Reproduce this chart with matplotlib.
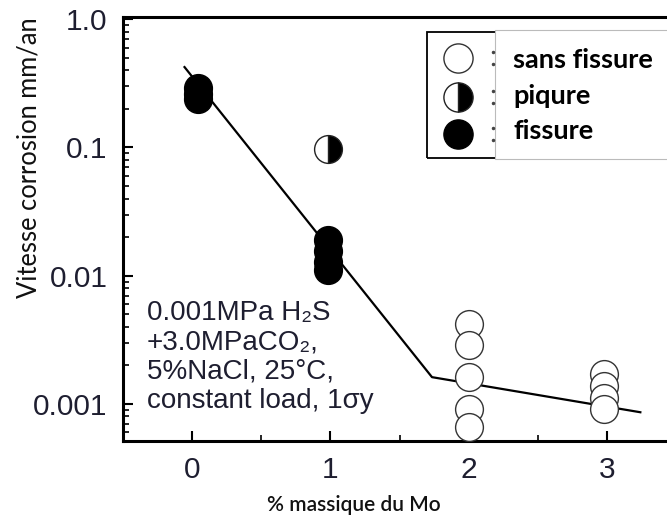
import matplotlib
matplotlib.use("Agg")
import matplotlib.pyplot as plt
from matplotlib.ticker import LogLocator, MultipleLocator, FixedLocator, NullFormatter
from matplotlib.patches import Rectangle
from matplotlib.lines import Line2D

# ---------------- data ----------------
crack_x = [0.04, 0.04, 0.04, 0.98, 0.98, 0.98, 0.98]
crack_y = [0.29, 0.26, 0.24, 0.019, 0.0155, 0.0128, 0.011]
pit_x = [0.98]
pit_y = [0.098]
nocrack_x = [2.0, 2.0, 2.0, 2.0, 2.0, 2.98, 2.98, 2.98, 2.98]
nocrack_y = [0.0042, 0.0029, 0.00162, 0.00091, 0.00066, 0.00171, 0.00137, 0.00112, 0.00092]
fit_x = [-0.06, 1.735, 3.25]
fit_y = [0.43, 0.00162, 0.00086]
xtick_vals = [0, 1, 2, 3]
xtick_labels = ['0', '1', '2', '3']
ytick_vals = [0.001, 0.01, 0.1, 1.0]
ytick_labels = ['0.001', '0.01', '0.1', '1.0']
legend_labels = ['sans fissure', 'piqure', 'fissure']
conditions = ['0.001MPa H\u2082S', '+3.0MPaCO\u2082,', '5%NaCl, 25\u00b0C,', 'constant load, 1\u03c3y']

W, H = 667, 524
fig = plt.figure(figsize=(W / 100, H / 100), dpi=100)
fig.patch.set_facecolor('white')

def fx(px):
    return px / W

def fy(py):
    return 1 - py / H

txtcol = '#1e1e30'
ax = fig.add_axes([fx(123), fy(441), 553 / W, 424 / H])
ax.set_yscale('log')
ax.set_xlim(-0.5, 3.5)
ax.set_ylim(0.000515, 1.04)

ax.plot(fit_x, fit_y, color='black', lw=1.6, zorder=2, solid_capstyle='butt')
ax.plot(nocrack_x, nocrack_y, ls='none', marker='o', ms=20, mfc='white',
        mec='#333333', mew=1.0, zorder=3)
ax.plot(pit_x, pit_y, ls='none', marker='o', ms=20, fillstyle='right',
        mfc='black', mfcalt='white', mec='#222222', mew=1.0, zorder=3)
ax.plot(crack_x, crack_y, ls='none', marker='o', ms=20, mfc='black',
        mec='black', mew=1.0, zorder=4)

for s in ['left', 'bottom', 'top']:
    ax.spines[s].set_linewidth(2.2)
    ax.spines[s].set_color('black')
ax.spines['right'].set_visible(False)

ax.xaxis.set_major_locator(FixedLocator(xtick_vals))
ax.set_xticklabels(xtick_labels)
ax.xaxis.set_minor_locator(MultipleLocator(0.5))
ax.yaxis.set_major_locator(FixedLocator(ytick_vals))
ax.set_yticklabels(ytick_labels)
ax.yaxis.set_minor_locator(LogLocator(base=10, subs=[2, 3, 4, 5, 6, 7, 8, 9]))
ax.yaxis.set_minor_formatter(NullFormatter())
ax.tick_params(which='major', direction='in', length=7, width=1.5,
               labelsize=21.5, pad=11, colors='black', labelcolor=txtcol)
ax.tick_params(which='minor', direction='in', length=4, width=1.2)
ax.tick_params(top=False, right=False, which='both')
for lab in ax.get_xticklabels() + ax.get_yticklabels():
    lab.set_family(['Liberation Sans', 'DejaVu Sans'])

# condition text
for i, line in enumerate(conditions):
    fig.text(fx(147), fy(313 + 29.5 * i), line, fontsize=20, color=txtcol,
             family=['Liberation Sans', 'DejaVu Sans'], ha='left', va='center')

# axis labels
fig.text(fx(29), fy(158), 'Vitesse corrosion mm/an', rotation=90, fontsize=18.4,
         family='Lato', ha='center', va='center', color='#111111')
fig.text(fx(354), fy(505), '% massique du Mo', fontsize=15,
         family='Lato', fontweight='semibold', ha='center', va='center', color='#111111')

# legend box
fig.patches.append(Rectangle((fx(427), fy(158)), fx(700) - fx(427), (158 - 32) / H,
                             transform=fig.transFigure, fill=False, ec='black', lw=1.3,
                             zorder=5))
fig.patches.append(Rectangle((fx(495), fy(159)), fx(700) - fx(495), (159 - 30) / H,
                             transform=fig.transFigure, fc='white', ec='#bbbbbb', lw=0.8,
                             zorder=6))
rows = [58, 97, 134]
text_rows = [60, 96, 131]
styles = [dict(mfc='white', mec='#333333'),
          dict(mfc='black', mfcalt='white', fillstyle='right', mec='#222222'),
          dict(mfc='black', mec='black')]
for r, st in zip(rows, styles):
    fig.add_artist(Line2D([fx(458)], [fy(r)], marker='o', ms=21, mew=1.0,
                          ls='none', transform=fig.transFigure, zorder=7, **st))
    fig.add_artist(Line2D([fx(493), fx(493)], [fy(r - 6), fy(r + 6)], marker='o',
                          ms=1.5, ls='none', color='#444444',
                          transform=fig.transFigure, zorder=7))
for r, lab in zip(text_rows, legend_labels):
    fig.text(fx(513), fy(r), lab, fontsize=19.5, fontweight='bold', family='Lato',
             ha='left', va='center', color='black', zorder=8)

fig.savefig('out.png', dpi=100)
